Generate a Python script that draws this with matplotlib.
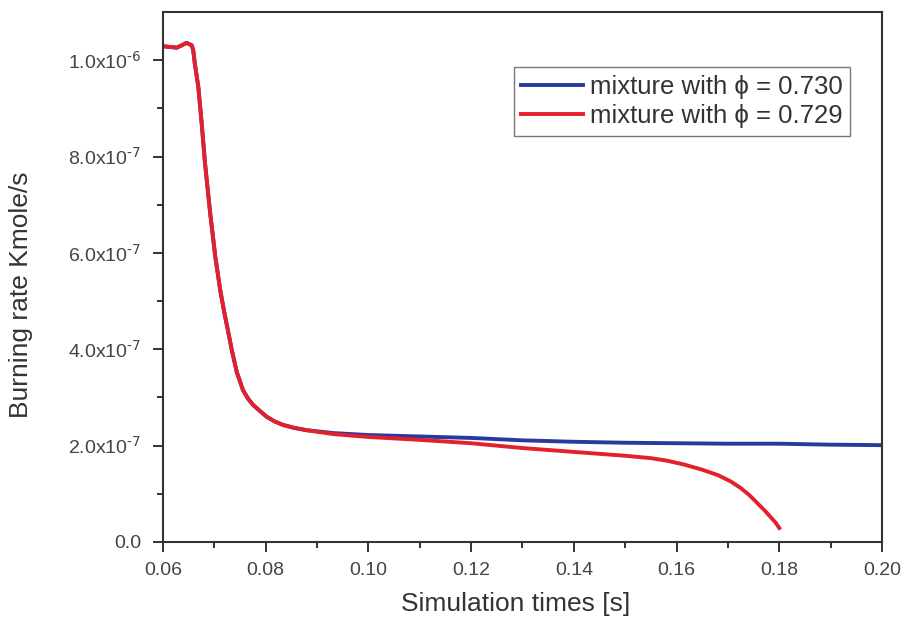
import numpy as np
from matplotlib import pyplot as plt
from matplotlib.ticker import MultipleLocator, FixedLocator
plt.rcParams["font.family"] = "Liberation Sans"
plt.rcParams['mathtext.default'] = 'regular'

# shared start of both curves (time [s], burning rate in 1e-7 Kmole/s)
t_start = [0.0600, 0.0618, 0.0627, 0.0637, 0.0646, 0.0656, 0.0659, 0.0662, 0.0669,
           0.0675, 0.0682, 0.0692, 0.0702, 0.0712, 0.0720, 0.0727, 0.0734, 0.0744,
           0.0756, 0.0766, 0.0776, 0.0790, 0.0802, 0.0818, 0.0834, 0.0855, 0.0880]
r_start = [10.29, 10.27, 10.26, 10.31, 10.36, 10.31, 10.21, 9.94, 9.44,
           8.75, 7.86, 6.83, 5.92, 5.20, 4.74, 4.37, 3.99, 3.52,
           3.15, 2.97, 2.84, 2.71, 2.60, 2.50, 2.43, 2.37, 2.32]

t_blue = [0.0932, 0.10, 0.11, 0.12, 0.13, 0.14, 0.15, 0.16, 0.17, 0.18, 0.19, 0.20]
r_blue = [2.26, 2.22, 2.19, 2.16, 2.11, 2.08, 2.06, 2.05, 2.04, 2.04, 2.02, 2.01]

t_red = [0.0932, 0.10, 0.11, 0.12, 0.13, 0.14, 0.145, 0.15, 0.155, 0.158, 0.1614, 0.165,
         0.168, 0.1705, 0.1725, 0.1742, 0.1757, 0.1771, 0.1783, 0.1793, 0.1800]
r_red = [2.24, 2.18, 2.12, 2.05, 1.95, 1.87, 1.83, 1.79, 1.74, 1.69, 1.61, 1.50,
         1.39, 1.26, 1.12, 0.97, 0.81, 0.66, 0.52, 0.40, 0.29]

labels = ['mixture with \u03d5 = 0.730', 'mixture with \u03d5 = 0.729']

x_b = np.array(t_start + t_blue)
y_b = np.array(r_start + r_blue) * 1e-7
x_r = np.array(t_start + t_red)
y_r = np.array(r_start + r_red) * 1e-7

fig = plt.figure(figsize=(9.05, 6.19), dpi=100)
ax = fig.add_axes([0.180, 0.1244, 0.7946, 0.8562])

ax.plot(x_b, y_b, color='#2a3a9c', lw=2.8, label=labels[0], solid_joinstyle='round')
ax.plot(x_r, y_r, color='#e3202b', lw=2.8, label=labels[1], solid_joinstyle='round')

ax.set_xlim(0.06, 0.20)
ax.set_ylim(0, 1.1e-6)

ax.xaxis.set_major_locator(MultipleLocator(0.02))
ax.xaxis.set_minor_locator(MultipleLocator(0.01))
ax.xaxis.set_major_formatter(plt.FuncFormatter(lambda v, p: f'{v:.2f}'))

yt = [0, 2e-7, 4e-7, 6e-7, 8e-7, 1e-6]
ylab = ['0.0', r'2.0x10$^{\text{-7}}$', r'4.0x10$^{\text{-7}}$', r'6.0x10$^{\text{-7}}$',
        r'8.0x10$^{\text{-7}}$', r'1.0x10$^{\text{-6}}$']
ax.yaxis.set_major_locator(FixedLocator(yt))
ax.set_yticklabels(ylab)
ax.yaxis.set_minor_locator(FixedLocator([1e-7, 3e-7, 5e-7, 7e-7, 9e-7]))

ax.tick_params(which='both', direction='out', top=False, right=False,
               labelsize=14, colors='#333333', labelcolor='#444444')
ax.tick_params(which='major', length=7.5, width=1.4)
ax.tick_params(which='minor', length=4, width=1.4)
ax.tick_params(axis='x', which='major', pad=7)
ax.tick_params(axis='y', which='major', pad=8)
for s in ax.spines.values():
  s.set_linewidth(1.5)
  s.set_color('#333333')

ax.set_xlabel('Simulation times [s]', fontsize=19, color='#333333')
ax.set_ylabel('Burning rate Kmole/s', fontsize=19, color='#333333')
ax.xaxis.set_label_coords(0.490, -0.094)
ax.yaxis.set_label_coords(-0.181, 0.466)

leg = ax.legend(loc='upper right', bbox_to_anchor=(0.9555, 0.896), borderaxespad=0,
                fontsize=18.5, fancybox=False, framealpha=1, edgecolor='#777777',
                handlelength=2.4, handletextpad=0.25, borderpad=0.3, labelspacing=0.2)
leg.get_frame().set_linewidth(1.0)
for t in leg.get_texts():
  t.set_color('#333333')

plt.savefig("out.png", dpi=100)
